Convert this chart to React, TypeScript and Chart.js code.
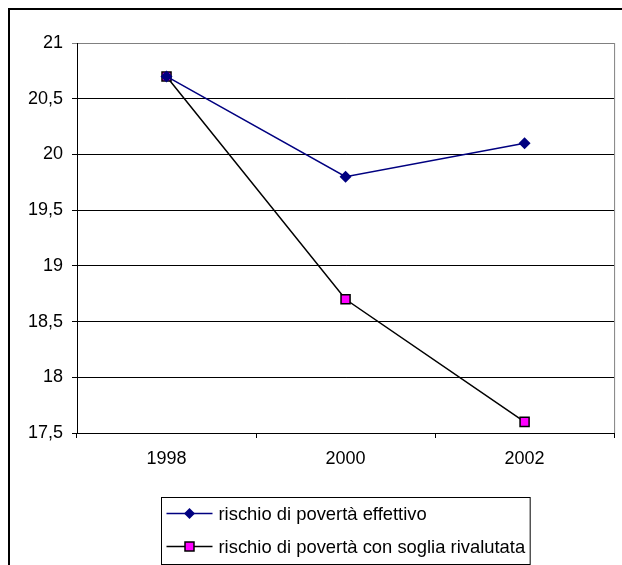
import React, { useEffect, useRef } from 'react';
import { Chart, registerables } from 'chart.js';

Chart.register(...registerables);

const categories = ['1998', '2000', '2002'];
const effettivo = [20.7, 19.8, 20.1];
const rivalutata = [20.7, 18.7, 17.6];
const seriesNames = ['rischio di povertà effettivo', 'rischio di povertà con soglia rivalutata'];
const yMin = 17.5;
const yMax = 21;
const yStep = 0.5;

const FONT = '"Liberation Sans", Arial, sans-serif';

const legendPlugin = {
  id: 'excelLegend',
  beforeDatasetsDraw(chart: any) {
    const { ctx, chartArea: a } = chart;
    ctx.save();
    ctx.strokeStyle = '#808080';
    ctx.lineWidth = 1;
    ctx.beginPath();
    ctx.moveTo(a.right + 0.5, a.top);
    ctx.lineTo(a.right + 0.5, a.bottom);
    ctx.stroke();
    ctx.restore();
  },
  afterDraw(chart: any) {
    const { ctx, chartArea: a } = chart;
    ctx.save();
    ctx.font = '18.4px ' + FONT;
    const maxW = Math.max(...seriesNames.map((s) => ctx.measureText(s).width));
    const lineLen = 46;
    const boxW = 5 + lineLen + 6 + maxW + 5;
    const boxH = 67;
    const cx = (a.left + a.right) / 2;
    const bx = Math.round(cx - boxW / 2) + 0.5;
    const by = Math.round(a.bottom + 64) + 0.5;
    ctx.strokeStyle = '#000';
    ctx.lineWidth = 1;
    ctx.strokeRect(bx, by, boxW, boxH);
    const rows = [by + 16, by + 49];
    const colors = ['#000080', '#000000'];
    rows.forEach((ry, i) => {
      const lx = bx + 5;
      ctx.strokeStyle = colors[i];
      ctx.lineWidth = 1.5;
      ctx.beginPath();
      ctx.moveTo(lx, ry);
      ctx.lineTo(lx + lineLen, ry);
      ctx.stroke();
      const mx = lx + lineLen / 2;
      if (i === 0) {
        ctx.fillStyle = '#000080';
        ctx.beginPath();
        ctx.moveTo(mx, ry - 5.5);
        ctx.lineTo(mx + 5.5, ry);
        ctx.lineTo(mx, ry + 5.5);
        ctx.lineTo(mx - 5.5, ry);
        ctx.closePath();
        ctx.fill();
      } else {
        ctx.fillStyle = '#FF00FF';
        ctx.strokeStyle = '#000';
        ctx.lineWidth = 1.5;
        ctx.fillRect(mx - 4.5, ry - 4.5, 9, 9);
        ctx.strokeRect(mx - 4.5, ry - 4.5, 9, 9);
      }
      ctx.fillStyle = '#000';
      ctx.textAlign = 'left';
      ctx.textBaseline = 'middle';
      ctx.fillText(seriesNames[i], lx + lineLen + 6, ry + 1);
    });
    ctx.restore();
  },
};

export default function App() {
  const ref = useRef<HTMLCanvasElement | null>(null);

  useEffect(() => {
    if (!ref.current) return;
    const chart = new Chart(ref.current, {
      type: 'line',
      data: {
        labels: categories,
        datasets: [
          {
            label: seriesNames[0],
            data: effettivo,
            borderColor: '#000080',
            backgroundColor: '#000080',
            borderWidth: 1.5,
            pointStyle: 'rectRot',
            pointRadius: 6,
            pointBorderWidth: 0,
            pointBackgroundColor: '#000080',
            pointBorderColor: '#000080',
            tension: 0,
          },
          {
            label: seriesNames[1],
            data: rivalutata,
            borderColor: '#000000',
            backgroundColor: '#FF00FF',
            borderWidth: 1.5,
            pointStyle: 'rect',
            pointRadius: 6.4,
            pointBorderWidth: 1.5,
            pointBackgroundColor: '#FF00FF',
            pointBorderColor: '#000000',
            tension: 0,
          },
        ],
      },
      options: {
        responsive: false,
        animation: false,
        events: [],
        layout: { padding: { left: 0, top: 35, right: 7, bottom: 0 } },
        font: { family: FONT, size: 18 },
        plugins: {
          legend: { display: false },
          tooltip: { enabled: false },
          title: { display: false },
        },
        scales: {
          x: {
            type: 'category',
            offset: true,
            grid: {
              display: true,
              drawOnChartArea: false,
              drawTicks: true,
              tickLength: 5,
              offset: true,
              color: '#000',
            },
            border: { display: true, color: '#000', width: 1 },
            ticks: {
              color: '#000',
              font: { family: FONT, size: 18 },
              padding: 10,
              maxRotation: 0,
            },
            afterFit(scale: any) {
              scale.height = 132;
            },
          },
          y: {
            type: 'linear',
            min: yMin,
            max: yMax,
            grid: {
              color: (c: any) => (c.tick && c.tick.value === yMax ? '#808080' : '#000'),
              lineWidth: 1,
              drawTicks: true,
              tickLength: 5,
            },
            border: { display: true, color: '#000', width: 1 },
            ticks: {
              stepSize: yStep,
              color: '#000',
              font: { family: FONT, size: 18 },
              padding: 9,
              callback: (v: any) => String(v).replace('.', ','),
            },
            afterFit(scale: any) {
              scale.width = 69;
            },
          },
        },
      },
      plugins: [legendPlugin],
    });
    return () => chart.destroy();
  }, []);

  return (
    <div
      style={{
        position: 'fixed',
        left: 8,
        top: 8,
        width: 614,
        height: 557,
        overflow: 'hidden',
        background: '#fff',
      }}
    >
      <div
        style={{
          position: 'absolute',
          left: 0,
          top: 0,
          width: 700,
          height: 700,
          border: '2px solid #000',
          boxSizing: 'border-box',
        }}
      />
      <canvas
        ref={ref}
        width={614}
        height={557}
        style={{ position: 'absolute', left: 0, top: 0, display: 'block' }}
      />
    </div>
  );
}
